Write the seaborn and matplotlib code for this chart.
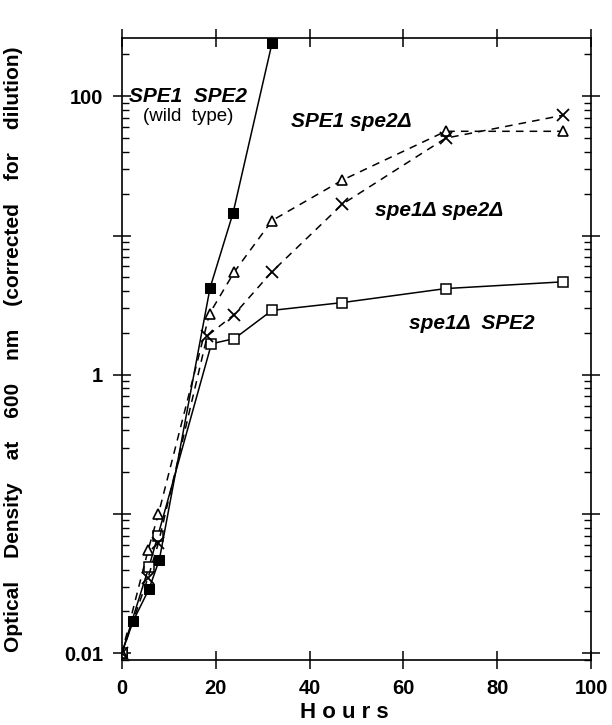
import matplotlib
matplotlib.use("Agg")
import matplotlib.pyplot as plt
import matplotlib.ticker as mticker
import seaborn as sns

# growth data (hours, OD600)
wt_hours = [0, 2.4, 5.8, 8, 18.8, 23.7, 32]
wt_od = [0.01, 0.017, 0.029, 0.047, 4.2, 14.5, 240]

spe2_hours = [0, 5.6, 7.8, 18.7, 24, 32, 47, 69, 94]
spe2_od = [0.01, 0.055, 0.1, 2.75, 5.5, 12.8, 25, 56, 56]

double_hours = [0, 5.6, 7.8, 18.2, 23.9, 32, 47, 69, 94]
double_od = [0.01, 0.035, 0.062, 1.9, 2.7, 5.5, 16.8, 50, 73]

spe1_hours = [0, 5.8, 7.7, 19.1, 24, 32, 47, 69, 94]
spe1_od = [0.01, 0.042, 0.07, 1.67, 1.82, 2.9, 3.3, 4.16, 4.65]

sns.set_style("ticks")
plt.rcParams["font.family"] = ["Liberation Sans", "DejaVu Sans"]
plt.rcParams["font.weight"] = "bold"
for k in ["text.color", "axes.labelcolor", "axes.edgecolor",
          "xtick.color", "ytick.color"]:
    plt.rcParams[k] = "black"

fig = plt.figure(figsize=(6.12, 7.25), dpi=100)
ax = fig.add_axes([0.199, 0.09, 0.767, 0.857])

dash = (0, (5, 4))
sns.lineplot(x=wt_hours, y=wt_od, ax=ax, color="black", lw=1.1,
             marker="s", markersize=7.5, markerfacecolor="black",
             markeredgecolor="black")
sns.lineplot(x=spe1_hours, y=spe1_od, ax=ax, color="black", lw=1.1,
             marker="s", markersize=7, markerfacecolor="white",
             markeredgecolor="black", markeredgewidth=1.1)
sns.lineplot(x=spe2_hours, y=spe2_od, ax=ax, color="black", lw=1.1,
             linestyle=dash, marker="^", markersize=7.5,
             markerfacecolor="white", markeredgecolor="black",
             markeredgewidth=1.2)
sns.lineplot(x=double_hours, y=double_od, ax=ax, color="black", lw=1.1,
             linestyle=dash, marker="x", markersize=8,
             markeredgecolor="black", markeredgewidth=1.3)

ax.set_yscale("log")
ax.set_xlim(0, 100)
ax.set_ylim(0.009, 260)
ax.set_xticks([0, 20, 40, 60, 80, 100])
ax.yaxis.set_major_locator(mticker.LogLocator(base=10, numticks=10))
ax.yaxis.set_minor_locator(mticker.LogLocator(base=10, subs=range(2, 10), numticks=20))
ax.yaxis.set_major_formatter(mticker.FuncFormatter(
    lambda v, p: {0.01: "0.01", 1: "1", 100: "100"}.get(round(v, 4), "")))
ax.yaxis.set_minor_formatter(mticker.NullFormatter())

ax.tick_params(which="major", direction="inout", length=13, width=1.1,
               top=True, right=True, labelsize=14.5, pad=7)
ax.tick_params(which="minor", direction="in", length=5, width=1,
               right=True)
for s in ax.spines.values():
    s.set_linewidth(1.2)

ax.set_xlabel("H o u r s", fontsize=16, fontweight="bold", va="baseline")
ax.xaxis.set_label_coords(0.475, -0.093)
ax.set_ylabel("Optical    Density    at    600    nm    (corrected    for    dilution)",
              fontsize=15, fontweight="bold")
ax.yaxis.set_label_coords(-0.21, 0.5)

ax.text(1.5, 100, "SPE1  SPE2", fontsize=15, fontweight="bold",
        style="italic", ha="left", va="center")
ax.text(14.2, 71, "(wild  type)", fontsize=13.5, fontweight="normal",
        ha="center", va="center")
ax.text(49, 66, "SPE1 spe2Δ", fontsize=15, fontweight="bold",
        style="italic", ha="center", va="center")
ax.text(67.5, 15, "spe1Δ spe2Δ", fontsize=15, fontweight="bold",
        style="italic", ha="center", va="center")
ax.text(74.5, 2.35, "spe1Δ  SPE2", fontsize=15, fontweight="bold",
        style="italic", ha="center", va="center")

fig.savefig("out.png", dpi=100)
